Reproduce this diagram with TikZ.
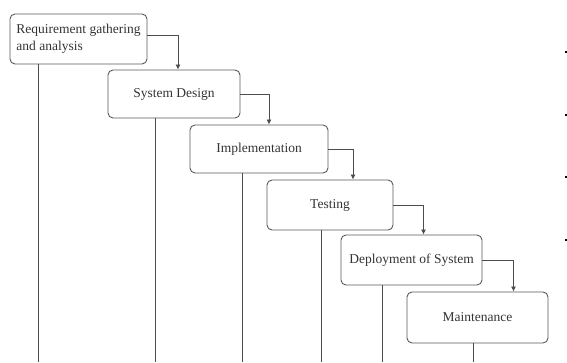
\documentclass[tikz,border=0pt]{standalone}
\usepackage{fontspec}
\setmainfont{Liberation Serif}
\usetikzlibrary{arrows.meta}

\begin{document}
\begin{tikzpicture}[x=1pt,y=-1pt,
		phase/.style={draw=black!65, line width=0.9pt, rounded corners=5pt,
			text=black!80, font=\fontsize{13.5}{17}\selectfont, inner sep=0pt},
		flow/.style={draw=black!70, line width=0.8pt, -{Latex[length=5pt,width=5pt]}},
		stem/.style={draw=black!70, line width=0.8pt}]
		\useasboundingbox (0,0) rectangle (567,362);
		% Phases
		\node[phase, minimum width=137pt, minimum height=50pt, align=left] (req) at (78.5,39) {Requirement gathering\\and analysis};
		\node[phase, minimum width=132pt, minimum height=48pt] (design) at (174,94) {System Design};
		\node[phase, minimum width=138pt, minimum height=48pt] (impl) at (259,149) {Implementation};
		\node[phase, minimum width=126pt, minimum height=50pt] (test) at (330,205) {Testing};
		\node[phase, minimum width=141pt, minimum height=50pt] (deploy) at (411.5,260) {Deployment of System};
		\node[phase, minimum width=141pt, minimum height=51pt] (maint) at (477.5,317.5) {Maintenance};
		% Steps down the waterfall
		\draw[flow] ([yshift=4pt]req.east) -| ([xshift=4pt]design.north);
		\draw[flow] (design.east) -| ([xshift=10pt]impl.north);
		\draw[flow] (impl.east) -| ([xshift=23pt]test.north);
		\draw[flow] (test.east) -| ([xshift=12pt]deploy.north);
		\draw[flow] (deploy.east) -| ([xshift=36pt]maint.north);
		% Lines down from each phase
		\coordinate (b1) at (38,362);
		\coordinate (b2) at (155,362);
		\coordinate (b3) at (242,362);
		\coordinate (b4) at (321,362);
		\coordinate (b5) at (382,362);
		\coordinate (b6) at (473,362);
		\draw[stem] (req.south -| b1) -- (b1);
		\draw[stem] (design.south -| b2) -- (b2);
		\draw[stem] (impl.south -| b3) -- (b3);
		\draw[stem] (test.south -| b4) -- (b4);
		\draw[stem] (deploy.south -| b5) -- (b5);
		\draw[stem] (maint.south -| b6) -- (b6);
		% Ticks on the right edge
		\foreach \y in {52,115,177,240}
			\draw[line width=1.2pt] (565,\y) -- (567,\y);
	\end{tikzpicture}
\end{document}
